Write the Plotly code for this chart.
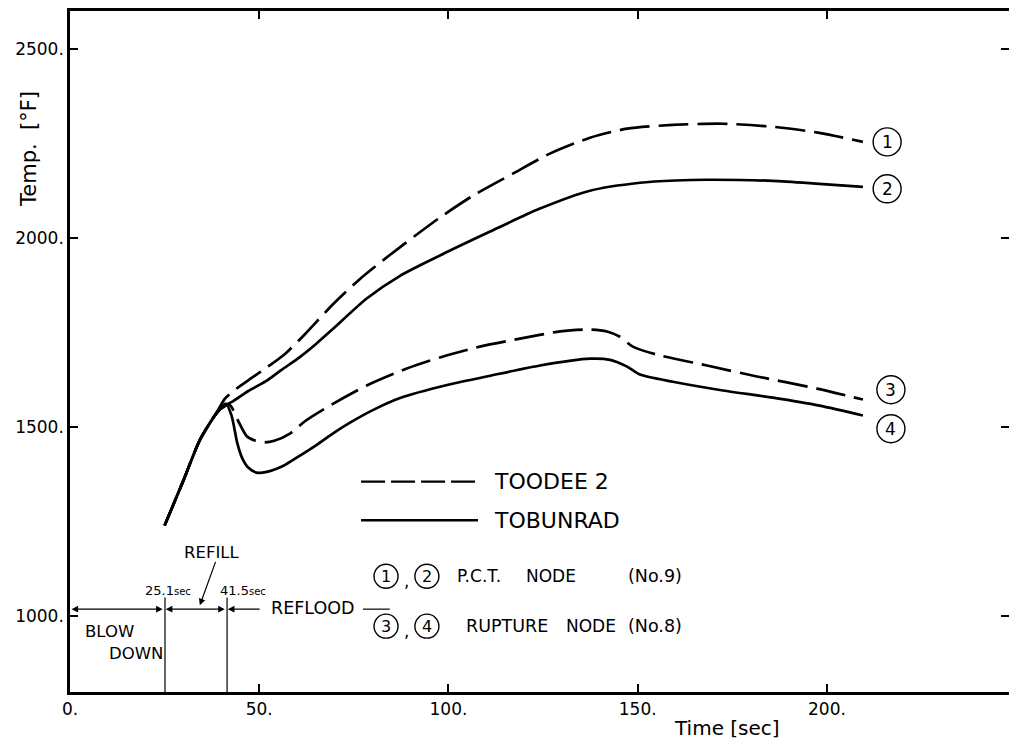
import plotly.graph_objects as go

# ---------------- data ----------------
# (1) TOODEE 2, P.C.T. node (dashed)
t1 = [25, 30, 34.3, 38.8, 41, 44, 48, 52, 56.4, 62, 69.5, 77, 84.5, 92, 98, 106.5,
      117, 126.8, 137.4, 147.2, 159.3, 172.5, 185.7, 198, 209.5]
T1 = [1240, 1360, 1466, 1540, 1576, 1602, 1630, 1658, 1690, 1745, 1825, 1895, 1955,
      2012, 2056, 2112, 2170, 2223, 2265, 2289, 2299, 2302, 2294, 2278, 2254]

# (2) TOBUNRAD, P.C.T. node (solid)
t2 = [25, 30, 34.3, 38.8, 41, 43, 47, 52, 56, 60.8, 65, 69.5, 78.4, 87.2, 98, 111,
      124, 137.4, 150.6, 160, 168.3, 185.7, 198, 209.5]
T2 = [1240, 1360, 1466, 1538, 1558, 1568, 1595, 1623, 1652, 1686, 1720, 1760, 1840,
      1900, 1955, 2017, 2077, 2125, 2146, 2152, 2154, 2151, 2143, 2135]

# (3) TOODEE 2, rupture node (dashed)
t3 = [25, 30, 34.3, 38.8, 41, 42.3, 44.5, 46.7, 49, 51.5, 54, 58.1, 62, 68.7, 78.4,
      89, 98, 108.3, 118.9, 129.5, 137.4, 141.9, 145.3, 148.7, 155, 168.3, 181.5,
      197.4, 209.5]
T3 = [1240, 1360, 1466, 1538, 1556, 1558, 1515, 1476, 1464, 1460, 1464, 1483, 1515,
      1557, 1610, 1655, 1685, 1713, 1734, 1753, 1758, 1753, 1739, 1713, 1692, 1663,
      1634, 1602, 1573]

# (4) TOBUNRAD, rupture node (solid)
t4 = [25, 30, 34.3, 38.8, 41.2, 42.7, 44.2, 45.5, 47, 49.3, 52, 56.4, 60, 65, 70, 74,
      80, 87.2, 99.9, 111, 124.2, 137.4, 142.7, 147.2, 150.6, 159.3, 172.5, 185.7,
      198, 209.5]
T4 = [1240, 1360, 1466, 1538, 1562, 1530, 1458, 1418, 1394, 1380, 1382, 1398, 1420,
      1452, 1487, 1512, 1545, 1577, 1612, 1636, 1663, 1681, 1678, 1660, 1639, 1620,
      1597, 1578, 1557, 1531]

# phase boundaries [sec]
blowdown_end = 25.1
refill_end = 41.5

x_ticks = [0, 50, 100, 150, 200]
x_ticktext = ["0.", "50.", "100.", "150.", "200."]
y_ticks = [1000, 1500, 2000, 2500]
y_ticktext = ["1000.", "1500.", "2000.", "2500."]

FONT = "DejaVu Sans"
LW = 2.7
DASH = "30px,9px"

fig = go.Figure()
for t, T, dash in [(t1, T1, DASH), (t2, T2, "solid"), (t3, T3, DASH), (t4, T4, "solid")]:
    fig.add_trace(go.Scatter(x=t, y=T, mode="lines",
                             line=dict(color="black", width=LW, dash=dash,
                                       shape="spline", smoothing=0.7),
                             hoverinfo="skip"))
# dummy trace for right-hand tick axis
fig.add_trace(go.Scatter(x=[], y=[], yaxis="y2"))

shapes = []
annotations = []

def text(x, y, s, size=16, xanchor="left", yanchor="middle", **kw):
    annotations.append(dict(x=x, y=y, xref="x", yref="y", text=s, showarrow=False,
                            xanchor=xanchor, yanchor=yanchor,
                            font=dict(family=FONT, size=size, color="black"), **kw))

def circled(x, y, label, d=28, size=17):
    r = d / 2
    shapes.append(dict(type="circle", xref="x", yref="y", xsizemode="pixel",
                       ysizemode="pixel", xanchor=x, yanchor=y, x0=-r, x1=r, y0=-r, y1=r,
                       line=dict(color="black", width=1.4)))
    text(x, y, label, size=size, xanchor="center")

# curve-end labels
circled(215.9, 2254, "1")
circled(215.9, 2130, "2")
circled(216.9, 1599, "3")
circled(216.9, 1496, "4")

# legend lines and names
shapes.append(dict(type="line", xref="x", yref="y", x0=76.9, x1=107.8, y0=1356, y1=1356,
                   line=dict(color="black", width=2.2, dash="24px,6px")))
shapes.append(dict(type="line", xref="x", yref="y", x0=76.9, x1=107.8, y0=1254, y1=1254,
                   line=dict(color="black", width=2.4)))
text(111.5, 1356, "TOODEE 2", size=22)
text(111.5, 1254, "TOBUNRAD", size=22)

# node legend rows
for yrow, a, b in [(1106, "1", "2"), (974, "3", "4")]:
    circled(83.5, yrow, a, d=24, size=16)
    circled(94.3, yrow, b, d=24, size=16)
    text(88.9, yrow - 12, ",", size=17, xanchor="center")
text(101.6, 1106, "P.C.T.", size=17)
text(120.0, 1106, "NODE", size=17)
text(146.8, 1106, "(No.9)", size=17.5)
text(104.2, 974, "RUPTURE", size=17.5)
text(130.6, 974, "NODE", size=17)
text(146.8, 974, "(No.8)", size=17.5)

# phase markers
yph = 1019
for xb in (blowdown_end, refill_end):
    shapes.append(dict(type="line", xref="x", yref="y", x0=xb, x1=xb, y0=800, y1=1050,
                       line=dict(color="black", width=1.2)))

def arrow(xtip, xtail, y, both=True):
    annotations.append(dict(x=xtip, y=y, ax=xtail, ay=y, xref="x", yref="y",
                            axref="x", ayref="y", text="", showarrow=True,
                            arrowhead=2, arrowsize=1.1, arrowwidth=1.2,
                            arrowcolor="black", standoff=0, startstandoff=0,
                            arrowside="end+start" if both else "end",
                            startarrowhead=2, startarrowsize=1.1))

arrow(0.4, blowdown_end - 0.2, yph)
arrow(blowdown_end + 0.2, refill_end - 0.2, yph)
arrow(refill_end + 0.2, 50.5, yph, both=False)
shapes.append(dict(type="line", xref="x", yref="y", x0=77.4, x1=84.5, y0=yph, y1=yph,
                   line=dict(color="black", width=1.2)))

text(64, 1022, "REFLOOD", size=17.5, xanchor="center")
text(3.4, 960, "BLOW", size=16.5)
text(9.8, 902, "DOWN", size=16.5)
text(25.8, 1069, "25.1<span style='font-size:10px'>sec</span>", size=13, xanchor="center")
text(39.1, 1069, "41.5<span style='font-size:10px'>sec</span>", size=13)
text(29.6, 1169, "REFILL", size=16.5)
annotations.append(dict(x=34.3, y=1029, ax=38.6, ay=1148, xref="x", yref="y",
                        axref="x", ayref="y", text="", showarrow=True, arrowhead=2,
                        arrowsize=1.1, arrowwidth=1.2, arrowcolor="black", standoff=0))

# axis titles
annotations.append(dict(x=(727 - 70) / 939, y=(692 - 728) / 681, xref="paper",
                        yref="paper", text="Time [sec]", showarrow=False,
                        xanchor="center", yanchor="middle",
                        font=dict(family=FONT, size=20, color="black")))
annotations.append(dict(x=(29 - 70) / 939, y=(692 - 149) / 681, xref="paper",
                        yref="paper", text="Temp.  [°F]", showarrow=False,
                        textangle=-90, xanchor="center", yanchor="middle",
                        font=dict(family=FONT, size=21, color="black")))

fig.update_layout(
    width=1009, height=740,
    margin=dict(l=70, r=0, t=11, b=48),
    plot_bgcolor="white", paper_bgcolor="white",
    showlegend=False,
    font=dict(family=FONT, color="black"),
    shapes=shapes, annotations=annotations,
    xaxis=dict(range=[0, 248.1], tickvals=x_ticks, ticktext=x_ticktext,
               ticks="inside", ticklen=8, tickwidth=1.5, tickcolor="black",
               showline=True, linewidth=2.5, linecolor="black", mirror="ticks",
               showgrid=False, zeroline=False, tickfont=dict(size=17, family=FONT)),
    yaxis=dict(range=[800, 2600], tickvals=y_ticks, ticktext=y_ticktext,
               ticks="inside", ticklen=8, tickwidth=1.5, tickcolor="black",
               showline=True, linewidth=2.5, linecolor="black", mirror=False,
               showgrid=False, zeroline=False, tickfont=dict(size=17, family=FONT)),
    yaxis2=dict(range=[800, 2600], overlaying="y", side="right", tickvals=y_ticks,
                ticks="inside", ticklen=8, tickwidth=1.5, tickcolor="black",
                showticklabels=False, showline=False, showgrid=False, zeroline=False),
)

fig.write_html("out.html")
